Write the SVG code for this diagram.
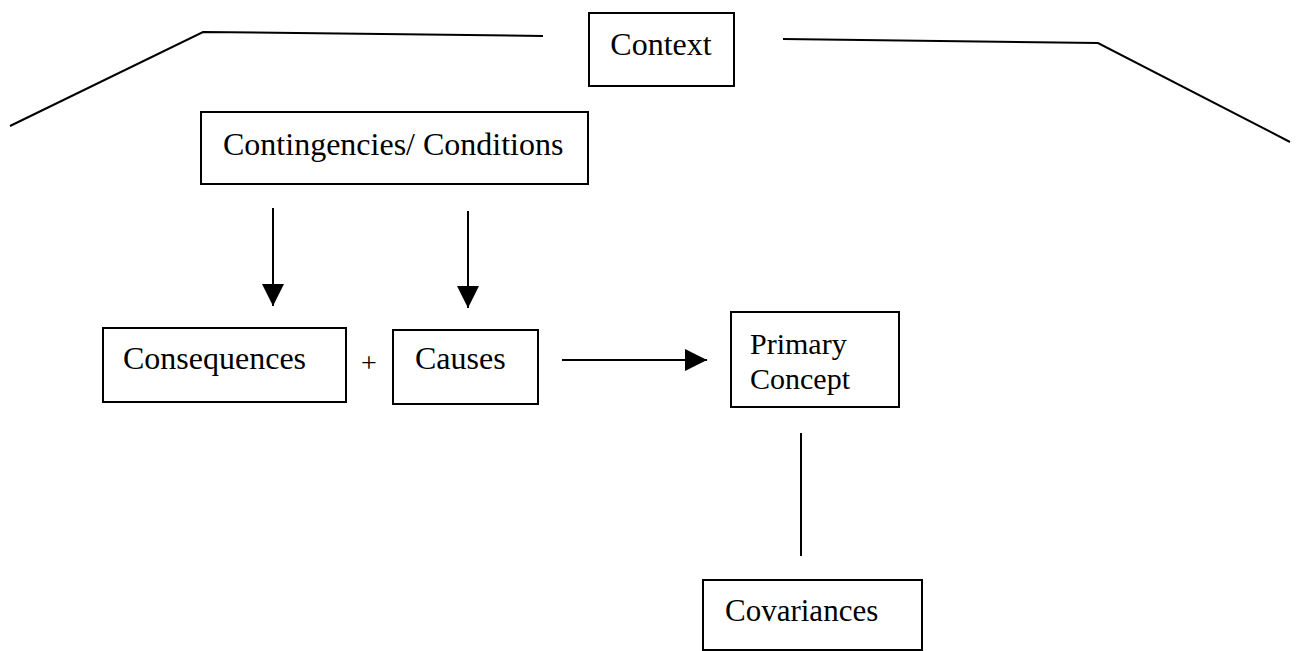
<svg xmlns="http://www.w3.org/2000/svg" width="1297" height="651" viewBox="0 0 1297 651">
<style>
.box{fill:#fff;stroke:#000;stroke-width:2}
.lbl{font-family:"Liberation Serif","Times New Roman",serif;font-size:32px;fill:#000}
.ln{fill:none;stroke:#000;stroke-width:2}
</style>
<defs>
<marker id="ah" markerUnits="userSpaceOnUse" markerWidth="22" markerHeight="22" refX="22" refY="11" orient="auto">
<path d="M0,0 L22,11 L0,22 Z" fill="#000"/>
</marker>
</defs>
<rect width="1297" height="651" fill="#fff"/>
<g id="connectors">
<polyline class="ln" points="10,126 203,32 543,36"/>
<polyline class="ln" points="783,39 1098,43 1290,142"/>
<line class="ln" x1="273" y1="208" x2="273" y2="306" marker-end="url(#ah)"/>
<line class="ln" x1="468" y1="211" x2="468" y2="308" marker-end="url(#ah)"/>
<line class="ln" x1="562" y1="360" x2="707" y2="360" marker-end="url(#ah)"/>
<line class="ln" x1="801" y1="433" x2="801" y2="556"/>
</g>
<g id="context">
<rect class="box" x="589" y="13" width="145" height="73"/>
<text class="lbl" x="661" y="55" text-anchor="middle">Context</text>
</g>
<g id="contingencies">
<rect class="box" x="201" y="112" width="387" height="72"/>
<text class="lbl" x="223" y="155">Contingencies/ Conditions</text>
</g>
<g id="consequences">
<rect class="box" x="103" y="328" width="243" height="74"/>
<text class="lbl" x="123" y="369">Consequences</text>
</g>
<g id="plus">
<text class="lbl" x="369" y="372" text-anchor="middle" style="font-size:28px">+</text>
</g>
<g id="causes">
<rect class="box" x="393" y="330" width="145" height="74"/>
<text class="lbl" x="415" y="369">Causes</text>
</g>
<g id="primary">
<rect class="box" x="731" y="312" width="168" height="95"/>
<text class="lbl" x="750" y="354" style="font-size:30px">Primary</text>
<text class="lbl" x="750" y="389" style="font-size:30px">Concept</text>
</g>
<g id="covariances">
<rect class="box" x="703" y="580" width="219" height="70"/>
<text class="lbl" x="725" y="621" style="font-size:31px">Covariances</text>
</g>
</svg>
